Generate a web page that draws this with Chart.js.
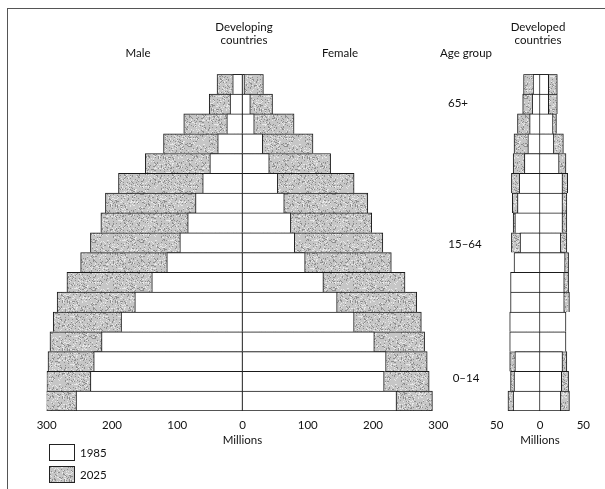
<!DOCTYPE html>
<html>
<head>
<meta charset="utf-8">
<script src="https://cdn.jsdelivr.net/npm/chart.js@4.4.0/dist/chart.umd.min.js"></script>
<style>
  html, body { margin: 0; padding: 0; background: #fff; }
  #wrap { position: relative; width: 605px; height: 489px; overflow: hidden; font-family: Lato, "Open Sans", sans-serif; font-size: 11.5px; color: #111; }
  canvas { position: absolute; left: 0; top: 0; }
  .lbl { position: absolute; transform: translate(-50%, -50%); white-space: nowrap; line-height: 13px; text-align: center; }
  .frameTop { position: absolute; left: 8px; top: 8px; width: 597px; height: 0; border-top: 1.5px solid #555; }
  .frameLeft { position: absolute; left: 7px; top: 8px; width: 0; height: 481px; border-left: 1.5px solid #555; }
  .swatch { position: absolute; left: 49px; width: 24px; height: 15px; border: 1px solid #222; background: #fff; }
  .legtxt { position: absolute; left: 80px; transform: translateY(-50%); }
</style>
</head>
<body>
<div id="wrap">
  <div class="frameTop"></div>
  <div class="frameLeft"></div>
  <canvas id="devingChart" width="605" height="489"></canvas>
  <canvas id="devedChart" width="605" height="489"></canvas>

  <div class="lbl" style="left:244px; top:33px;">Developing<br>countries</div>
  <div class="lbl" style="left:538px; top:33px;">Developed<br>countries</div>
  <div class="lbl" style="left:138px; top:52px;">Male</div>
  <div class="lbl" style="left:340px; top:52px;">Female</div>
  <div class="lbl" style="left:466px; top:52px;">Age group</div>
  <div class="lbl" style="left:458px; top:102px;">65+</div>
  <div class="lbl" style="left:465px; top:243px;">15–64</div>
  <div class="lbl" style="left:466px; top:377px;">0–14</div>

  <div class="swatch" style="top:444px;"></div>
  <div class="legtxt" style="top:452px;">1985</div>
  <div class="swatch" id="sw2025" style="top:466px;"></div>
  <div class="legtxt" style="top:474px;">2025</div>
</div>

<script>
// ==========================
// Data (millions), age groups from oldest (top) to youngest (bottom)
// ==========================
const ageGroups = ['80+', '75–79', '70–74', '65–69', '60–64', '55–59', '50–54', '45–49',
  '40–44', '35–39', '30–34', '25–29', '20–24', '15–19', '10–14', '5–9', '0–4'];

// developing countries
const devingMale1985   = [15, 19, 24, 38, 50, 61, 72, 84, 96, 116, 139, 165, 186, 216, 228, 233, 255];
const devingMale2025   = [39, 51, 90, 121, 149, 190, 210, 217, 233, 248, 269, 284, 290, 295, 298, 300, 302];
const devingFemale1985 = [3, 12, 18, 31, 41, 54, 64, 74, 80, 96, 124, 145, 171, 202, 220, 217, 236];
const devingFemale2025 = [32, 46, 79, 108, 135, 171, 192, 198, 215, 228, 249, 267, 274, 279, 283, 286, 291];

// developed countries
const devedMale1985   = [8, 9, 12, 14, 18, 24, 26, 29, 23, 30, 34, 34, 35, 35, 29, 30, 31];
const devedMale2025   = [19, 20, 26, 30, 31, 33, 32, 31, 33, 29, 32, 32, 33, 33, 35, 34, 37];
const devedFemale1985 = [10, 10, 15, 16, 22, 26, 26, 26, 24, 29, 28, 28, 30, 30, 26, 25, 24];
const devedFemale2025 = [20, 20, 19, 27, 30, 32, 31, 31, 31, 33, 33, 34, 28, 28, 31, 33, 34];

const devingTicks = [-300, -200, -100, 0, 100, 200, 300];
const devedTicks = [-50, 0, 50];

// ==========================
// Stipple fill for 2025 (fixed integer hash, no randomness)
// ==========================
function hash2(x, y) {
  let h = Math.imul(x, 374761393) + Math.imul(y, 668265263);
  h = Math.imul(h ^ (h >>> 13), 1274126177);
  return ((h ^ (h >>> 16)) >>> 0) % 100;
}

function stippleTile() {
  const n = 48;
  const c = document.createElement('canvas');
  c.width = c.height = n;
  const g = c.getContext('2d');
  g.fillStyle = '#c6c6c6';
  g.fillRect(0, 0, n, n);
  for (let y = 0; y < n; y++) {
    for (let x = 0; x < n; x++) {
      const h = hash2(x, y);
      if (h < 14) { g.fillStyle = '#8e8e8e'; g.fillRect(x, y, 1, 1); }
      else if (h < 26) { g.fillStyle = '#e8e8e8'; g.fillRect(x, y, 1, 1); }
    }
  }
  return c;
}
const tile = stippleTile();
document.getElementById('sw2025').style.background = 'url(' + tile.toDataURL() + ')';

Chart.defaults.font.family = 'Lato, "Open Sans", sans-serif';
Chart.defaults.font.size = 11.5;
Chart.defaults.color = '#111';

const lastRow = ageGroups.length - 1;

// male bars carry the centre line, female bars skip it; rows share one separator
function barSet(label, values, sign, fill) {
  return {
    label,
    data: values.map(v => v * sign),
    backgroundColor: fill,
    borderColor: '#1a1a1a',
    borderWidth: c => ({
      top: 1,
      bottom: c.dataIndex === lastRow ? 1 : 0,
      left: sign < 0 ? 1 : 0,
      right: 1
    }),
    borderSkipped: false,
    grouped: false,
    barPercentage: 1,
    categoryPercentage: 1
  };
}

function makePyramid(id, male85, male25, fem85, fem25, ticks, pad) {
  const ctx = document.getElementById(id).getContext('2d');
  const stipple = ctx.createPattern(tile, 'repeat');
  const lim = ticks[ticks.length - 1];
  return new Chart(ctx, {
    type: 'bar',
    data: {
      labels: ageGroups,
      datasets: [
        // first datasets are drawn on top
        barSet('1985', male85, -1, '#ffffff'),
        barSet('1985', fem85, 1, '#ffffff'),
        barSet('2025', male25, -1, stipple),
        barSet('2025', fem25, 1, stipple)
      ]
    },
    options: {
      indexAxis: 'y',
      responsive: false,
      animation: false,
      layout: { padding: pad },
      plugins: { legend: { display: false }, tooltip: { enabled: false } },
      scales: {
        x: {
          min: -lim, max: lim,
          afterBuildTicks: s => { s.ticks = ticks.map(v => ({ value: v })); },
          afterFit: s => { s.height = 40; },
          grid: { display: false, drawTicks: false },
          border: { display: false },
          ticks: { padding: 7, callback: v => Math.abs(v), maxRotation: 0 },
          title: { display: true, text: 'Millions', padding: { top: 0, bottom: 4 } }
        },
        y: { display: false }
      }
    }
  });
}

makePyramid('devingChart', devingMale1985, devingMale2025, devingFemale1985, devingFemale2025,
  devingTicks, { left: 46.7, right: 166.7, top: 74.3, bottom: 38 });
makePyramid('devedChart', devedMale1985, devedMale2025, devedFemale1985, devedFemale2025,
  devedTicks, { left: 496.7, right: 21.7, top: 74.3, bottom: 38 });
</script>
</body>
</html>
